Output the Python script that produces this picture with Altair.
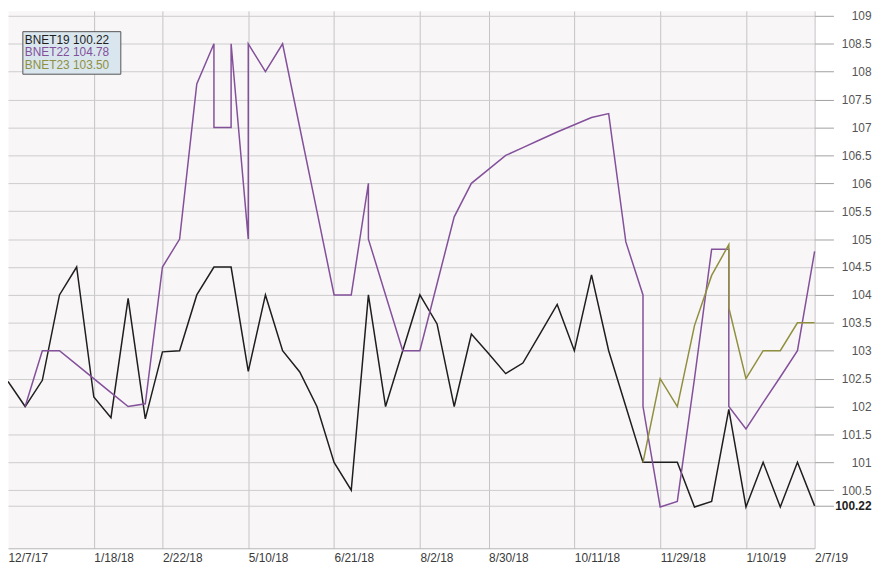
import altair as alt
import pandas as pd

# x positions are evenly spaced observation indices; these are the labelled ones
tick_index = [0, 5, 9, 14, 19, 24, 28, 33, 38, 43, 47]
tick_labels = ["12/7/17", "1/18/18", "2/22/18", "5/10/18", "6/21/18", "8/2/18",
               "8/30/18", "10/11/18", "11/29/18", "1/10/19", "2/7/19"]

bnet19_x = list(range(48))
bnet19_y = [102.45, 102.0, 102.47, 104.0, 104.5, 102.17, 101.8, 103.94, 101.78, 102.98,
            103.0, 104.0, 104.5, 104.5, 102.63, 104.0, 103.0, 102.62, 102.0, 101.0,
            100.5, 104.0, 102.0, 103.0, 104.0, 103.48, 102.0, 103.3, 102.95, 102.59,
            102.78, 103.3, 103.83, 103.0, 104.36, 103.0, 102.0, 101.0, 101.0, 101.0,
            100.2, 100.3, 101.95, 100.2, 101.0, 100.2, 101.0, 100.22]

bnet22_x = [1, 2, 3, 4, 5, 6, 7, 8, 9, 10, 11, 12, 12, 13, 13, 14, 14, 15, 16, 17,
            18, 19, 20, 21, 21, 22, 23, 24, 25, 26, 27, 28, 29, 30, 31, 32, 33, 34, 35, 36,
            37, 37, 38, 39, 40, 41, 42, 42, 43, 44, 45, 46, 47]
bnet22_y = [102.0, 103.0, 103.0, 102.75, 102.5, 102.25, 102.0, 102.05, 104.5, 105.0,
            107.78, 108.5, 107.0, 107.0, 108.5, 105.0, 108.5, 108.0, 108.5, 107.0,
            105.5, 104.0, 104.0, 106.0, 105.0, 104.0, 103.0, 103.0, 104.2, 105.4,
            106.0, 106.25, 106.5, 106.64, 106.78, 106.92, 107.05, 107.18, 107.25, 104.95,
            104.0, 102.0, 100.2, 100.3, 102.5, 104.82, 104.82, 102.0, 101.6, 102.07,
            102.53, 103.0, 104.78]

bnet23_x = [37, 38, 39, 40, 41, 42, 42, 43, 44, 45, 46, 47]
bnet23_y = [101.0, 102.5, 102.0, 103.45, 104.35, 104.9, 103.77, 102.5, 103.0, 103.0,
            103.5, 103.5]

series_names = ["BNET19", "BNET22", "BNET23"]
series_colors = ["#1e1e1e", "#83509a", "#8f8f3e"]
last_values = ["100.22", "104.78", "103.50"]

y_ticks = [100.22] + [100.5 + 0.5 * k for k in range(18)]

rows = []
for name, xs, ys in zip(series_names, [bnet19_x, bnet22_x, bnet23_x],
                        [bnet19_y, bnet22_y, bnet23_y]):
    for k, (xv, yv) in enumerate(zip(xs, ys)):
        rows.append({"series": name, "idx": xv, "val": yv, "ord": k})
df = pd.DataFrame(rows)

FONT = "Liberation Sans"

label_expr = ("[" + ",".join("'" + t + "'" for t in tick_labels) + "][indexof(["
              + ",".join(str(i) for i in tick_index) + "], datum.value)]")

x_axis = alt.Axis(
    values=tick_index, labelExpr=label_expr, labelAlign="left", labelPadding=4,
    ticks=False, labelFontSize=12, labelColor="#3a3a3a", labelFont=FONT,
    labelOverlap=False, labelFlush=False, title=None,
    domainColor="#b5b5b5",
    gridColor={"condition": {"test": "datum.value == 0", "value": "transparent"},
               "value": "#c4c4c4"},
)
y_axis = alt.Axis(
    orient="right", values=y_ticks, labelExpr="datum.value + ''",
    tickSize=19, tickColor="#a0a0a0", labelAlign="right", labelPadding=38,
    labelFontSize=12, labelFont=FONT, domain=False, title=None,
    labelOverlap=False, labelFlush=False,
    labelColor={"condition": {"test": "datum.value == 100.22", "value": "#222222"},
                "value": "#555555"},
    labelFontWeight={"condition": {"test": "datum.value == 100.22", "value": "bold"},
                     "value": "normal"},
    gridColor="#cccccc",
)

lines = alt.Chart(df).mark_line(strokeWidth=1.5).encode(
    x=alt.X("idx:Q", scale=alt.Scale(domain=[0, 47], nice=False, zero=False), axis=x_axis),
    y=alt.Y("val:Q", scale=alt.Scale(domain=[99.46, 109.09], nice=False, zero=False), axis=y_axis),
    color=alt.Color("series:N", scale=alt.Scale(domain=series_names, range=series_colors),
                    legend=None),
    order="ord:Q",
)

legend_df = pd.DataFrame({"series": series_names, "last": last_values})
box = alt.Chart(legend_df.head(1)).mark_rect(
    fill="#d9e6ee", stroke="#555555", strokeWidth=1
).encode(x=alt.value(15), x2=alt.value(114), y=alt.value(21), y2=alt.value(64))

texts = []
for i, (name, col, last) in enumerate(zip(series_names, series_colors, last_values)):
    texts.append(
        alt.Chart(legend_df.iloc[[i]]).mark_text(
            align="left", baseline="middle", fontSize=12, font=FONT, color=col
        ).encode(x=alt.value(17), y=alt.value(29 + 13 * i),
                 text=alt.value(f"{name} {last}"))
    )

chart = alt.layer(lines, box, *texts).properties(
    width=815, height=543,
    autosize=alt.AutoSizeParams(type="none"),
    padding={"left": 0, "top": 0, "right": 60, "bottom": 16},
    background="#ffffff",
).configure_view(stroke="transparent", fill="#f9f6f8")

chart.save("out.html", embed_options={"renderer": "svg", "actions": False})
